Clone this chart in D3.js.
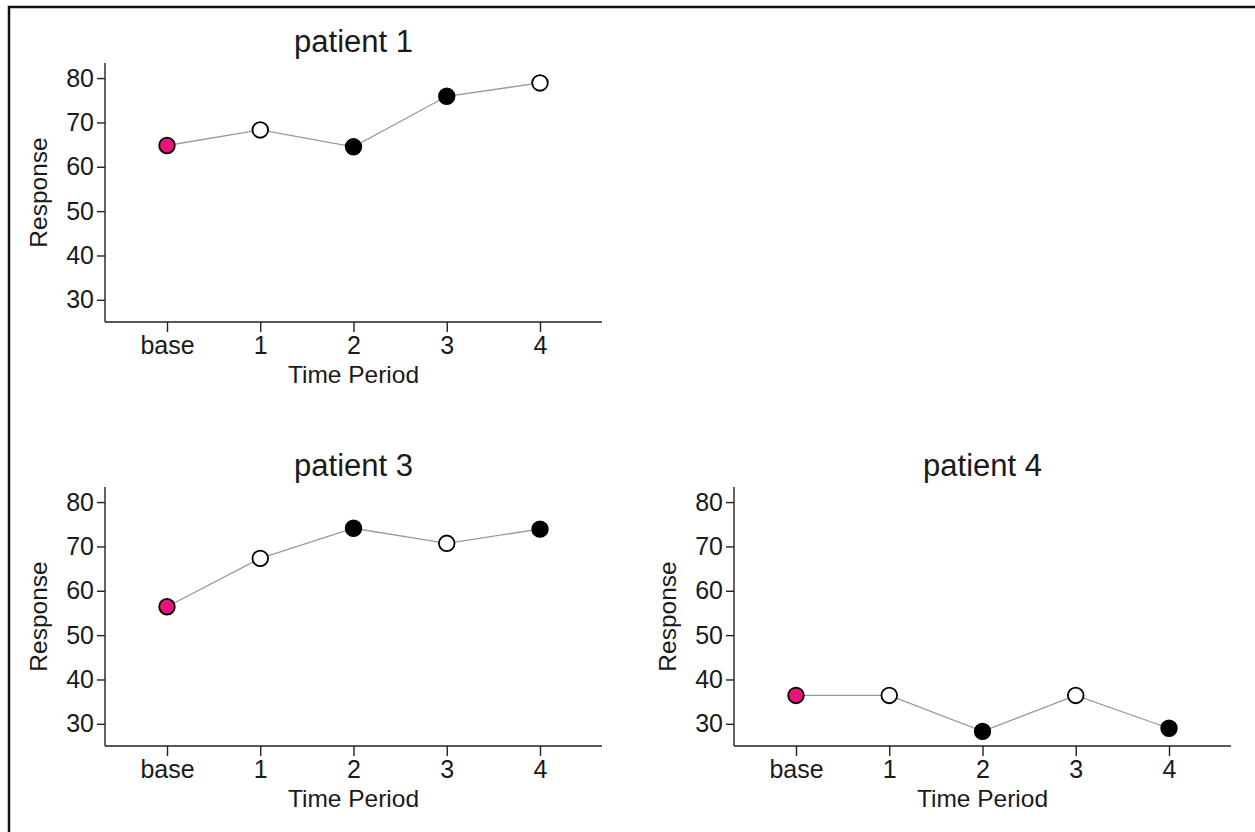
<!DOCTYPE html>
<html>
<head>
<meta charset="utf-8">
<script src="https://cdn.jsdelivr.net/npm/d3@7"></script>
<style>
  body { margin: 0; background: #fff; }
  svg text { font-family: "Liberation Sans", Arial, sans-serif; fill: #1a1a1a; }
</style>
</head>
<body>
<div id="chart"></div>
<script>
// time periods on the x axis
var periods = ['base', '1', '2', '3', '4']
var yTicks = [30, 40, 50, 60, 70, 80]

// responses
var patient1 = [64.8, 68.3, 64.5, 75.9, 78.9]
var patient3 = [56.4, 67.3, 74.1, 70.7, 73.9]
var patient4 = [36.4, 36.4, 28.3, 36.4, 29.0]

// marker kind per period: base = pink, on = filled, off = open
var kinds1 = ['base', 'off', 'on', 'on', 'off']
var kinds3 = ['base', 'off', 'on', 'off', 'on']
var kinds4 = ['base', 'off', 'on', 'off', 'on']

var width = 1255
var height = 832

var svg = d3.select('#chart').append('svg')
  .attr('width', width)
  .attr('height', height)

// frame (only top and left edges are visible)
svg.append('path')
  .attr('d', 'M9,832V7H1255')
  .attr('fill', 'none')
  .attr('stroke', '#111')
  .attr('stroke-width', 2.5)

var fill = { base: '#e8147c', on: '#000', off: '#fff' }

function panel(title, values, kinds, left, top) {
  var w = 497
  var h = 259
  var g = svg.append('g').attr('transform', `translate(${left},${top})`)

  var x = d3.scalePoint()
    .domain(periods)
    .range([62, w - 62])

  var y = d3.scaleLinear()
    .domain([25, 83.4])
    .range([h, 0])

  var xAxis = g.append('g')
    .attr('transform', `translate(0,${h})`)
    .call(d3.axisBottom(x).tickSize(10).tickSizeOuter(0).tickPadding(4))
  xAxis.select('.domain').attr('d', `M0,0H${w}`)

  var yAxis = g.append('g')
    .call(d3.axisLeft(y).tickValues(yTicks).tickSize(8).tickPadding(3).tickSizeOuter(0))
  yAxis.select('.domain').attr('d', `M0,0V${h}`)

  g.selectAll('.domain, .tick line')
    .attr('stroke', '#222')
    .attr('stroke-width', 1.4)
  g.selectAll('.tick text')
    .attr('font-size', 25)
    .attr('fill', '#1a1a1a')

  g.append('path')
    .datum(values)
    .attr('fill', 'none')
    .attr('stroke', '#999')
    .attr('stroke-width', 1.3)
    .attr('d', d3.line().x((d, i) => x(periods[i])).y(d => y(d)))

  g.selectAll('circle')
    .data(values)
    .enter()
    .append('circle')
    .attr('cx', (d, i) => x(periods[i]))
    .attr('cy', d => y(d))
    .attr('r', 7.8)
    .attr('fill', (d, i) => fill[kinds[i]])
    .attr('stroke', '#000')
    .attr('stroke-width', 1.8)

  g.append('text')
    .attr('x', w / 2)
    .attr('y', -11)
    .attr('text-anchor', 'middle')
    .attr('font-size', 31)
    .text(title)

  g.append('text')
    .attr('x', w / 2)
    .attr('y', h + 61)
    .attr('text-anchor', 'middle')
    .attr('font-size', 24.5)
    .text('Time Period')

  g.append('text')
    .attr('transform', `translate(${-58},${h / 2}) rotate(-90)`)
    .attr('text-anchor', 'middle')
    .attr('font-size', 24.5)
    .text('Response')
}

panel('patient 1', patient1, kinds1, 105, 63)
panel('patient 3', patient3, kinds3, 105, 487)
panel('patient 4', patient4, kinds4, 734, 487)
</script>
</body>
</html>
